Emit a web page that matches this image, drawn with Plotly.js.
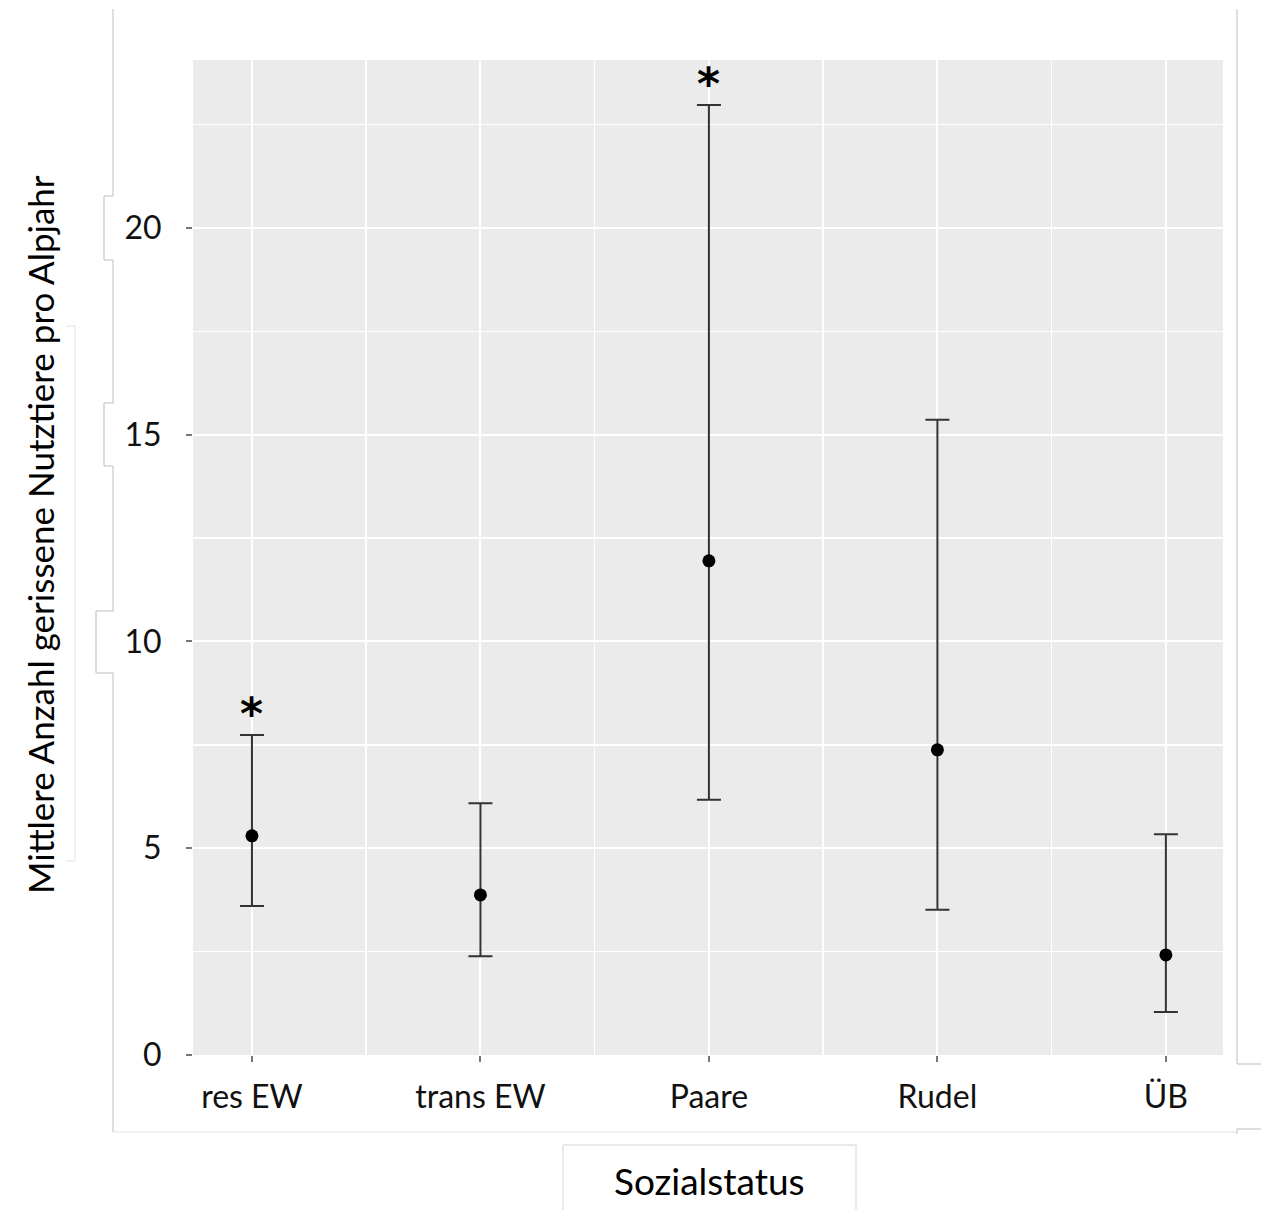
<!DOCTYPE html>
<html><head><meta charset="utf-8">
<script src="https://cdn.plot.ly/plotly-3.0.1.min.js"></script>
<style>html,body{margin:0;padding:0;background:#fff}#chart{width:1261px;height:1210px}</style>
</head><body><div id="chart"></div>
<script>
const categories = ["res EW", "trans EW", "Paare", "Rudel", "ÜB"];
const means = [5.30, 3.87, 11.95, 7.38, 2.42];
const upper = [7.74, 6.09, 22.97, 15.36, 5.34];
const lower = [3.60, 2.39, 6.17, 3.51, 1.04];
const significance = ["*", "", "*", "", ""];
const yTicks = [0, 5, 10, 15, 20];
const yTitle = "Mittlere Anzahl gerissene Nutztiere pro Alpjahr";
const xTitle = "Sozialstatus";

const W = 1261, H = 1210;
const M = {l: 193, r: 38, t: 60, b: 155};
const PW = W - M.l - M.r, PH = H - M.t - M.b;
const px = x => ((x - M.l) / PW).toFixed(5);
const py = y => ((H - M.b - y) / PH).toFixed(5);
function pathFrom(pts){ return pts.map((p,i)=>(i?'L':'M')+px(p[0])+','+py(p[1])).join(' '); }
function deco(pts, color){
  return {type:'path', xref:'paper', yref:'paper', path: pathFrom(pts),
          line:{color: color, width:1}, layer:'below'};
}

const xpos = categories.map((_, i) => i);
const font = "Lato, 'Open Sans', sans-serif";

const trace = {
  type: 'scatter', mode: 'markers', x: xpos, y: means,
  marker: {color: '#000', size: 13},
  error_y: {type: 'data', symmetric: false,
    array: upper.map((u, i) => u - means[i]),
    arrayminus: lower.map((l, i) => means[i] - l),
    color: '#333', thickness: 2, width: 12},
  hoverinfo: 'x+y', showlegend: false
};

const annotations = significance.map((s, i) => ({
  x: i, y: upper[i], xref: 'x', yref: 'y', text: '<b>' + s + '</b>', showarrow: false,
  yanchor: 'bottom', yshift: -6, font: {family: 'DejaVu Sans', size: 44, color: '#000'}
})).filter((a, i) => significance[i]);
annotations.push({xref:'paper', yref:'paper', x: px(40), y: py(535), text: yTitle, textangle: -90,
  showarrow:false, xanchor:'center', yanchor:'middle', font:{family: font, size: 35, color:'#000'}});
annotations.push({xref:'paper', yref:'paper', x: px(710), y: py(1181), text: xTitle,
  showarrow:false, xanchor:'center', yanchor:'middle', font:{family: font, size: 37, color:'#000'}});

const frame = '#bdbdbd', light = '#e2e2e2';
const shapes = [
  deco([[113,9],[113,196],[104,196],[104,260],[113,260],[113,403],[104,403],[104,466],[113,466],[113,611],[96,611],[96,673],[113,673],[113,1132]], frame),
  deco([[113,1132],[1236,1132]], light),
  deco([[1237,9],[1237,1064],[1261,1064]], frame),
  deco([[1261,1129],[1237,1129],[1237,1134]], frame),
  deco([[66,326],[75,326],[75,861],[66,861]], light),
  deco([[563,1212],[563,1145],[856,1145],[856,1212]], '#d4d4d4')
];

const layout = {
  width: W, height: H, margin: M, paper_bgcolor: '#fff', plot_bgcolor: '#ebebeb',
  showlegend: false, font: {family: font, color: '#000'},
  xaxis: {range: [-0.258, 4.25], tickmode: 'array', tickvals: xpos, ticktext: categories,
    showgrid: true, gridcolor: '#fff', gridwidth: 2, zeroline: false, showline: false,
    ticks: 'outside', ticklen: 6, tickwidth: 2, tickcolor: '#777',
    tickfont: {family: font, size: 32, color: '#111'}, ticklabelstandoff: 8,
    minor: {tick0: 0.5, dtick: 1, showgrid: true, gridcolor: '#fff', gridwidth: 1.5, ticks: ''}},
  yaxis: {range: [0, 24.06], tickmode: 'array', tickvals: yTicks,
    showgrid: true, gridcolor: '#fff', gridwidth: 2, zeroline: false, showline: false,
    ticks: 'outside', ticklen: 6, tickwidth: 2, tickcolor: '#777',
    tickfont: {family: font, size: 32, color: '#111'}, ticklabelstandoff: 18,
    minor: {tick0: 2.5, dtick: 5, showgrid: true, gridcolor: '#fff', gridwidth: 1.5, ticks: ''}},
  annotations: annotations, shapes: shapes
};

Plotly.newPlot('chart', [trace], layout, {displayModeBar: false, staticPlot: true});
</script></body></html>
